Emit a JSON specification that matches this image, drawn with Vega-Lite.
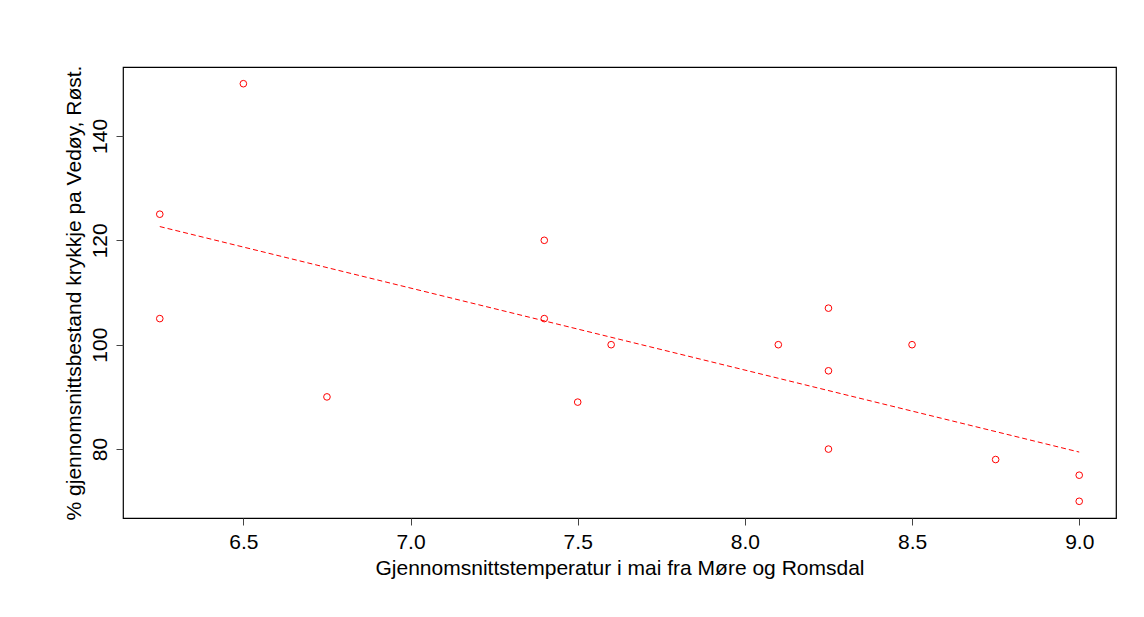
{
  "$schema": "https://vega.github.io/schema/vega-lite/v6.json",
  "width": 993,
  "height": 451,
  "autosize": {"type": "none"},
  "padding": {"left": 123, "top": 67, "right": 28, "bottom": 99},
  "background": "white",
  "config": {
    "view": {"stroke": "#000000", "strokeWidth": 1.2},
    "font": "Liberation Sans",
    "axis": {
      "domain": false,
      "grid": false,
      "tickColor": "#444444",
      "tickSize": 7,
      "tickWidth": 1,
      "labelFont": "Liberation Sans",
      "labelFontSize": 21,
      "labelColor": "#000000",
      "titleFont": "Liberation Sans",
      "titleFontSize": 21,
      "titleFontWeight": "normal",
      "titleColor": "#000000"
    }
  },
  "data": {
    "values": [
      {"temp": 6.25, "pct": 125},
      {"temp": 6.25, "pct": 105},
      {"temp": 6.5, "pct": 150},
      {"temp": 6.75, "pct": 90},
      {"temp": 7.4, "pct": 120},
      {"temp": 7.4, "pct": 105},
      {"temp": 7.5, "pct": 89},
      {"temp": 7.6, "pct": 100},
      {"temp": 8.1, "pct": 100},
      {"temp": 8.25, "pct": 107},
      {"temp": 8.25, "pct": 95},
      {"temp": 8.25, "pct": 80},
      {"temp": 8.5, "pct": 100},
      {"temp": 8.75, "pct": 78},
      {"temp": 9.0, "pct": 75},
      {"temp": 9.0, "pct": 70}
    ]
  },
  "layer": [
    {
      "mark": {"type": "point", "shape": "circle", "filled": false, "color": "#ff0000", "size": 44, "strokeWidth": 1, "opacity": 1},
      "encoding": {
        "x": {
          "field": "temp", "type": "quantitative",
          "scale": {"domain": [6.14, 9.11], "nice": false, "zero": false},
          "axis": {"values": [6.5, 7.0, 7.5, 8.0, 8.5, 9.0], "format": ".1f", "labelPadding": 6, "title": "Gjennomsnittstemperatur i mai fra Møre og Romsdal", "titlePadding": 5}
        },
        "y": {
          "field": "pct", "type": "quantitative",
          "scale": {"domain": [66.8, 153.2], "nice": false, "zero": false},
          "axis": {"values": [80, 100, 120, 140], "labelAngle": -90, "labelAlign": "center", "labelBaseline": "bottom", "labelPadding": 6, "title": "% gjennomsnittsbestand krykkje pa Vedøy, Røst.", "titlePadding": 5}
        }
      }
    },
    {
      "transform": [{"regression": "pct", "on": "temp"}],
      "mark": {"type": "line", "color": "#ff0000", "strokeWidth": 1, "strokeDash": [5, 3]},
      "encoding": {
        "x": {"field": "temp", "type": "quantitative"},
        "y": {"field": "pct", "type": "quantitative"}
      }
    }
  ]
}
